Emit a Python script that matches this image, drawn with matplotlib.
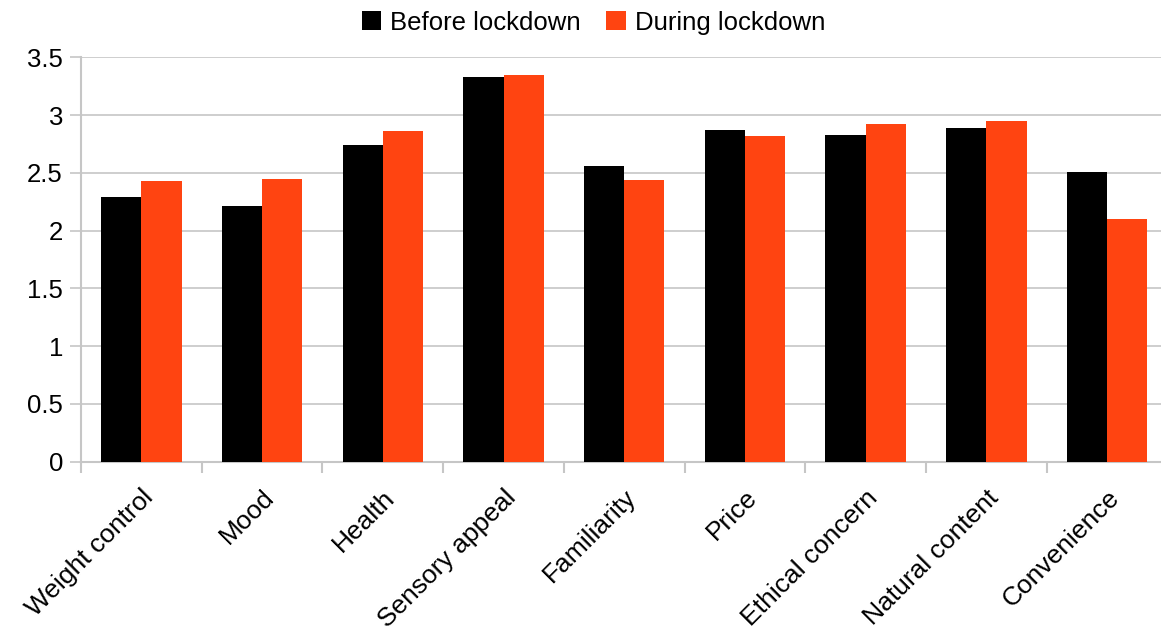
import matplotlib.pyplot as plt
import numpy as np

plt.rcParams['font.family'] = ['Liberation Sans', 'DejaVu Sans']

categories = ['Weight control', 'Mood', 'Health', 'Sensory appeal', 'Familiarity',
              'Price', 'Ethical concern', 'Natural content', 'Convenience']
before = [2.29, 2.215, 2.745, 3.33, 2.555, 2.87, 2.825, 2.89, 2.51]
during = [2.43, 2.45, 2.86, 3.345, 2.44, 2.815, 2.92, 2.95, 2.10]

grid_col = '#c6c6c6'

fig = plt.figure(figsize=(11.61, 6.26), dpi=100)
ax = fig.add_axes([81 / 1161, 1 - 461.7 / 626, (1167.5 - 81) / 1161, (461.7 - 57.3) / 626])

x = np.arange(len(categories))
w = 1 / 3
ax.bar(x - w / 2, before, width=w, color='#000000', label='Before lockdown', zorder=3)
ax.bar(x + w / 2, during, width=w, color='#ff4411', label='During lockdown', zorder=3)

ax.set_xlim(-0.5, len(categories) - 0.5)
ax.set_ylim(0, 3.5)
ax.set_yticks(np.arange(0, 3.51, 0.5))
ax.set_yticklabels(['0', '0.5', '1', '1.5', '2', '2.5', '3', '3.5'], fontsize=18.5)
ax.yaxis.grid(True, color=grid_col, linewidth=1.2, zorder=0)
ax.tick_params(axis='y', length=8, color=grid_col, width=1.2, pad=5)

ax.set_xticks(x)
ax.set_xticklabels(categories, rotation=45, ha='right', rotation_mode='anchor', fontsize=19)
ax.set_xticks(np.arange(-0.5, len(categories), 1), minor=True)
ax.tick_params(axis='x', which='major', length=0, pad=17)
ax.tick_params(axis='x', which='minor', length=8, color=grid_col, width=1.5)

for side in ['top', 'right']:
    ax.spines[side].set_visible(False)
for side in ['left', 'bottom']:
    ax.spines[side].set_color(grid_col)
    ax.spines[side].set_linewidth(1.5)

fig.legend(loc='upper center', bbox_to_anchor=(0.511, 1.02), ncol=2, frameon=False,
           fontsize=18.5, handlelength=0.75, handleheight=0.75, handletextpad=0.35,
           columnspacing=1.0)

fig.savefig('out.png', dpi=100, facecolor='white')
